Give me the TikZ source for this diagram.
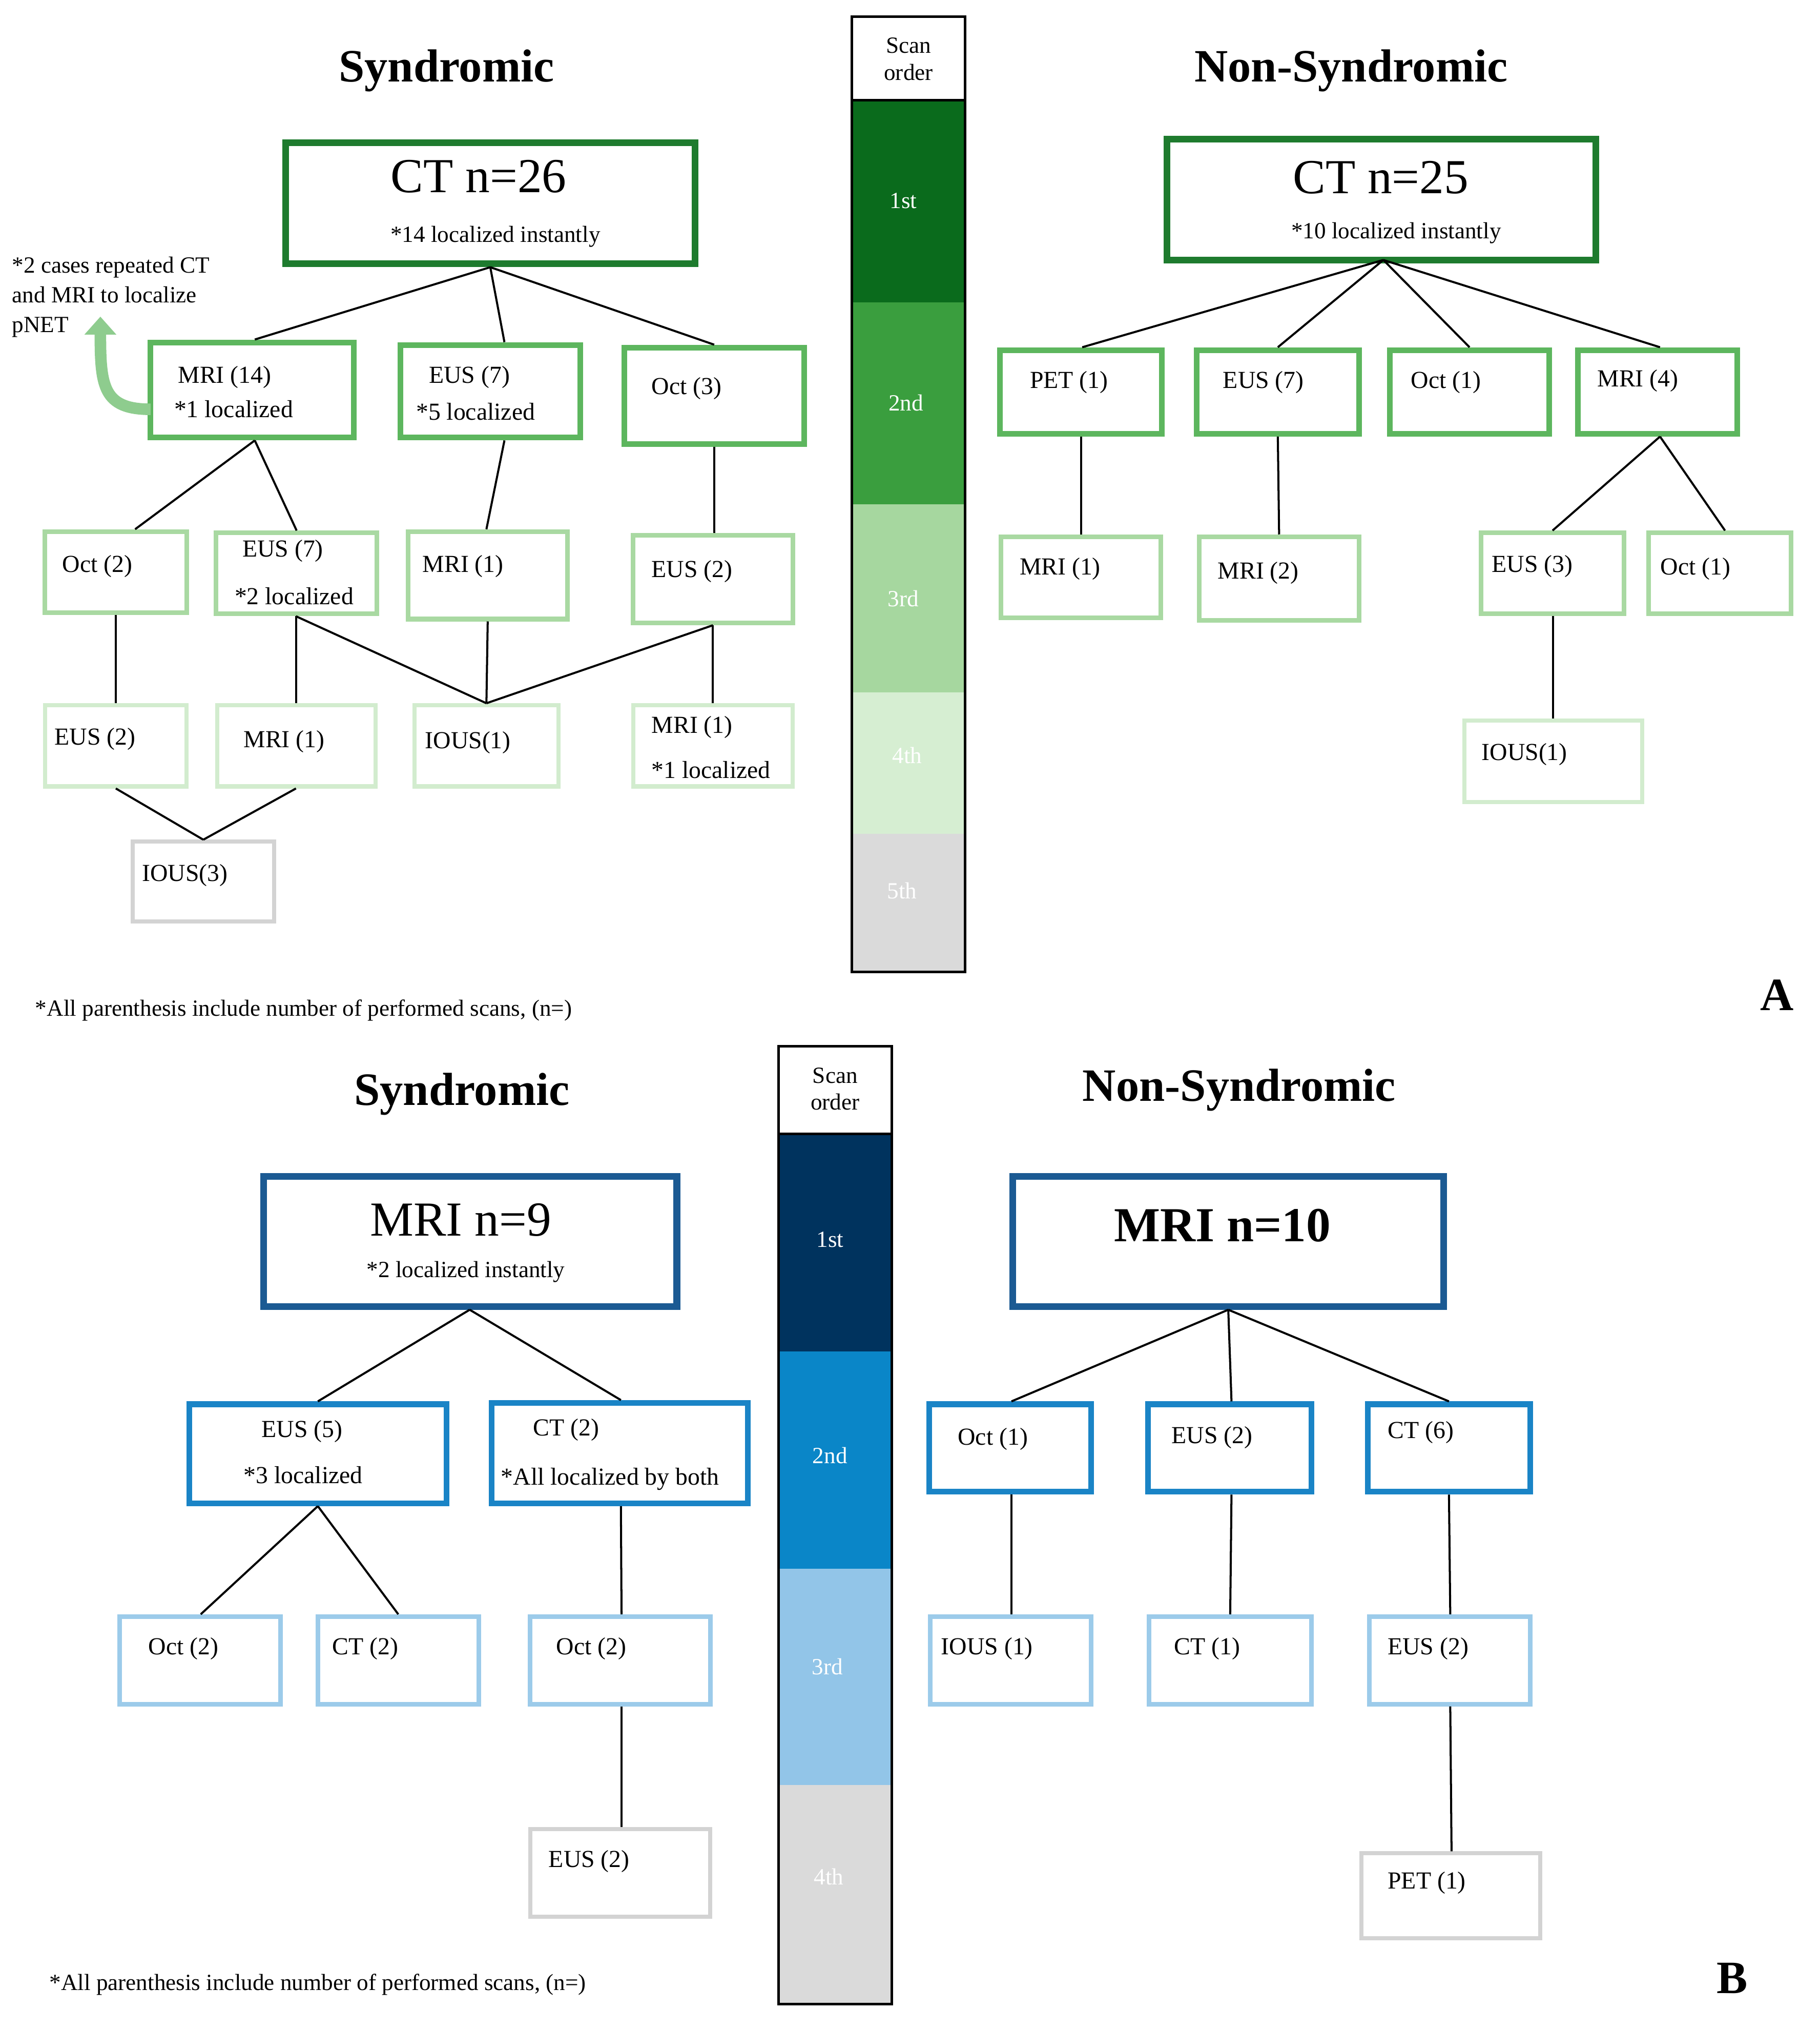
\documentclass[tikz,border=0pt]{standalone}
\usepackage{fontspec}
\setmainfont{Liberation Serif}
\usetikzlibrary{arrows.meta}
\definecolor{gA}{HTML}{1E7B2E}\definecolor{gB}{HTML}{5DB65E}\definecolor{gC}{HTML}{A9D9A2}\definecolor{gD}{HTML}{D2ECCE}
\definecolor{gr}{HTML}{D3D3D3}
\definecolor{bA}{HTML}{1B5A93}\definecolor{bB}{HTML}{1A84C6}\definecolor{bC}{HTML}{9CCBEA}
\definecolor{sA1}{HTML}{0A6B1C}\definecolor{sA2}{HTML}{3A9E3E}\definecolor{sA3}{HTML}{A6D79F}\definecolor{sA4}{HTML}{D6EED2}
\definecolor{sB1}{HTML}{00335E}\definecolor{sB2}{HTML}{0A86C8}\definecolor{sB3}{HTML}{92C5E8}
\newcommand\bx[6]{\node[draw,#6,inner sep=0pt,minimum width={(#4-#2)*0.5pt},minimum height={(#5-#3)*0.5pt}] (#1) at ({(#2+#4)/2},{(#3+#5)/2}) {};}
\newcommand\tx[4][]{\node[anchor=west,font=\fontsize{9.5}{11}\selectfont,inner sep=0pt,#1] (#2) at (#3) {#4};}
\newcommand\band[6]{\fill[#6] (#2,#3) rectangle (#4,#5); \node[white,font=\fontsize{9}{11}\selectfont] (#1) at ({(#2+#4)/2},{(#3+#5)/2}) {\strut};}
\tikzset{L1/.style={draw=#1,line width=2.6pt},L2/.style={draw=#1,line width=2.2pt},L3/.style={draw=#1,line width=1.8pt},L4/.style={draw=#1,line width=1.6pt},
con/.style={line width=0.8pt,black},ttl/.style={font=\fontsize{18}{20}\selectfont\bfseries},
big/.style={font=\fontsize{19}{21}\selectfont},sub/.style={font=\fontsize{9}{11}\selectfont}}
\begin{document}
\begin{tikzpicture}[x=0.5pt,y=-0.5pt]
\useasboundingbox (0,0) rectangle (1414,1578);
% ===== Panel A syndromic
\node[ttl] (tA1) at (347,55) {Syndromic};
\bx{ct26}{222}{111}{540}{205}{L1=gA}
\node[big] (ct26t) at (372,137) {CT n=26};
\node[sub] (ct26s) at (385,184) {*14 localized instantly};
\node[anchor=north west,align=left,inner sep=0pt,font=\fontsize{9}{11.6}\selectfont] (note) at (9,199) {*2 cases repeated CT\\and MRI to localize\\pNET};
\bx{mri14}{117}{266}{275}{340}{L2=gB}
\tx{a1}{138,293}{MRI (14)}\tx{a2}{135,318}{*1 localized}
\bx{eus7}{311}{268}{451}{340}{L2=gB}
\tx{a3}{333,293}{EUS (7)}\tx{a4}{323,320}{*5 localized}
\bx{oct3}{485}{270}{625}{345}{L2=gB}
\tx{a5}{506,302}{Oct (3)}
\coordinate (arS) at (117,318);\coordinate (arE) at (78,246);
\draw[line width=4.5pt,color=gB!70!white,-{Triangle[width=12pt,length=7pt]}] (arS) .. controls (80,318) and (78,300) .. (arE);
\draw[con] (ct26.south) -- ([xshift=2*0.5pt]mri14.north);
\draw[con] (ct26.south) -- ([xshift=11*0.5pt]eus7.north);
\draw[con] (ct26.south) -- (oct3.north);
\bx{oct2}{35}{413}{145}{476}{L3=gC}\tx{a6}{48,440}{Oct (2)}
\bx{eus7b}{168}{414}{293}{477}{L3=gC}\tx{a7}{188,428}{EUS (7)}\tx{a8}{182,463}{*2 localized}
\bx{mri1a}{317}{413}{441}{481}{L3=gC}\tx{a9}{328,440}{MRI (1)}
\bx{eus2a}{492}{416}{616}{484}{L3=gC}\tx{a10}{506,444}{EUS (2)}
\draw[con] ([xshift=2*0.5pt]mri14.south) -- ([xshift=15*0.5pt]oct2.north);
\draw[con] ([xshift=2*0.5pt]mri14.south) -- (eus7b.north);
\draw[con] ([xshift=11*0.5pt]eus7.south) -- ([xshift=-1*0.5pt]mri1a.north);
\draw[con] (oct3.south) -- ([xshift=1*0.5pt]eus2a.north);
\bx{eus2b}{35}{548}{145}{611}{L4=gD}\tx{a11}{42,574}{EUS (2)}
\bx{mri1b}{169}{548}{292}{611}{L4=gD}\tx{a12}{189,576}{MRI (1)}
\bx{ious1a}{322}{548}{434}{611}{L4=gD}\tx{a13}{330,577}{IOUS(1)}
\bx{mri1c}{492}{548}{616}{611}{L4=gD}\tx{a14}{506,565}{MRI (1)}\tx{a15}{506,598}{*1 localized}
\draw[con] (oct2.south) -- (eus2b.north);
\draw[con] ([xshift=-0.5*0.5pt]eus7b.south) -- ([xshift=-0.5*0.5pt]mri1b.north);
\draw[con] ([xshift=-0.5*0.5pt]eus7b.south) -- (ious1a.north);
\draw[con] (mri1a.south) -- (ious1a.north);
\draw[con] (eus2a.south) -- (ious1a.north);
\draw[con] (eus2a.south) -- (mri1c.north);
\bx{ious3}{103}{654}{213}{716}{L4=gr}\tx{a16}{110,680}{IOUS(3)}
\draw[con] (eus2b.south) -- (ious3.north);
\draw[con] ([xshift=-0.5*0.5pt]mri1b.south) -- (ious3.north);
\node[anchor=west,inner sep=0pt,sub] (fnA) at (27,785) {*All parenthesis include number of performed scans, (n=)};
\node[font=\fontsize{18}{20}\selectfont\bfseries] (lA) at (1381,773) {A};
% bar A
\node[font=\fontsize{9}{10.5}\selectfont,align=center] (soA) at (706,46) {Scan\\order};
\band{b1}{662}{78}{750}{235}{sA1}\node[white,font=\fontsize{9}{11}\selectfont] (b1t) at (702,156) {1st};
\band{b2}{662}{235}{750}{392}{sA2}\node[white,font=\fontsize{9}{11}\selectfont] (b2t) at (704,313) {2nd};
\band{b3}{662}{392}{750}{538}{sA3}\node[white,font=\fontsize{9}{11}\selectfont] (b3t) at (702,465) {3rd};
\band{b4}{662}{538}{750}{648}{sA4}\node[white,font=\fontsize{9}{11}\selectfont] (b4t) at (705,587) {4th};
\band{b5}{662}{648}{750}{755}{gr!85!white}\node[white,font=\fontsize{9}{11}\selectfont] (b5t) at (701,692) {5th};
\draw[line width=1pt] (662,13) rectangle (750,755); \draw[line width=1pt] (662,78) -- (750,78);
% Panel A non-syndromic
\node[ttl] (tA2) at (1050,55) {Non-Syndromic};
\bx{ct25}{907}{108}{1240}{202}{L1=gA}
\node[big] (ct25t) at (1073,138) {CT n=25};
\node[sub] (ct25s) at (1085,181) {*10 localized instantly};
\bx{pet1}{777}{272}{903}{337}{L2=gB}\tx{c1}{800,297}{PET (1)}
\bx{eus7c}{930}{272}{1056}{337}{L2=gB}\tx{c2}{950,297}{EUS (7)}
\bx{oct1a}{1080}{272}{1204}{337}{L2=gB}\tx{c3}{1096,297}{Oct (1)}
\bx{mri4}{1226}{272}{1350}{337}{L2=gB}\tx{c4}{1241,296}{MRI (4)}
\coordinate (ctb) at (1075,202);
\draw[con] (ctb) -- ([xshift=1*0.5pt]pet1.north);
\draw[con] (ctb) -- (eus7c.north);
\draw[con] (ctb) -- (oct1a.north);
\draw[con] (ctb) -- ([xshift=2*0.5pt]mri4.north);
\bx{mri1d}{778}{417}{902}{480}{L3=gC}\tx{c5}{792,442}{MRI (1)}
\bx{mri2}{932}{417}{1056}{482}{L3=gC}\tx{c6}{946,445}{MRI (2)}
\bx{eus3}{1151}{414}{1262}{477}{L3=gC}\tx{c7}{1159,440}{EUS (3)}
\bx{oct1b}{1281}{414}{1392}{477}{L3=gC}\tx{c8}{1290,442}{Oct (1)}
\draw[con] (pet1.south) -- (mri1d.north);
\draw[con] (eus7c.south) -- (mri2.north);
\draw[con] ([xshift=2*0.5pt]mri4.south) -- (eus3.north);
\draw[con] ([xshift=2*0.5pt]mri4.south) -- ([xshift=4*0.5pt]oct1b.north);
\bx{ious1b}{1138}{560}{1276}{623}{L4=gD}\tx{c9}{1151,586}{IOUS(1)}
\draw[con] ([xshift=0.5*0.5pt]eus3.south) -- (ious1b.north);
% ===== Panel B syndromic
\node[ttl] (tB1) at (359,850) {Syndromic};
\bx{mri9}{205}{914}{526}{1015}{L1=bA}
\node[big] (mri9t) at (358,948) {MRI n=9};
\node[sub] (mri9s) at (362,988) {*2 localized instantly};
\bx{eus5}{147}{1091}{347}{1168}{L2=bB}\tx{d1}{203,1112}{EUS (5)}\tx{d2}{189,1146}{*3 localized}
\bx{ct2}{382}{1090}{581}{1168}{L2=bB}\tx{d3}{414,1111}{CT (2)}\tx{d4}{389,1149}{*All localized by both}
\draw[con] ([xshift=-0.5*0.5pt]mri9.south) -- (eus5.north);
\draw[con] ([xshift=-0.5*0.5pt]mri9.south) -- ([xshift=1*0.5pt]ct2.north);
\bx{oct2b}{93}{1256}{218}{1324}{L3=bC}\tx{d5}{115,1281}{Oct (2)}
\bx{ct2b}{247}{1256}{372}{1324}{L3=bC}\tx{d6}{258,1281}{CT (2)}
\bx{oct2c}{412}{1256}{552}{1324}{L3=bC}\tx{d7}{432,1281}{Oct (2)}
\draw[con] (eus5.south) -- ([xshift=0.5*0.5pt]oct2b.north);
\draw[con] (eus5.south) -- (ct2b.north);
\draw[con] ([xshift=1*0.5pt]ct2.south) -- ([xshift=1*0.5pt]oct2c.north);
\bx{eus2c}{412}{1421}{552}{1489}{L4=gr}\tx{d8}{426,1446}{EUS (2)}
\draw[con] ([xshift=1*0.5pt]oct2c.south) -- ([xshift=1*0.5pt]eus2c.north);
\node[anchor=west,inner sep=0pt,sub] (fnB) at (38,1542) {*All parenthesis include number of performed scans, (n=)};
\node[font=\fontsize{18}{20}\selectfont\bfseries] (lB) at (1346,1537) {B};
% bar B
\node[font=\fontsize{9}{10.5}\selectfont,align=center] (soB) at (649,846) {Scan\\order};
\band{e1}{605}{881}{693}{1050}{sB1}\node[white,font=\fontsize{9}{11}\selectfont] (e1t) at (645,963) {1st};
\band{e2}{605}{1050}{693}{1219}{sB2}\node[white,font=\fontsize{9}{11}\selectfont] (e2t) at (645,1131) {2nd};
\band{e3}{605}{1219}{693}{1387}{sB3}\node[white,font=\fontsize{9}{11}\selectfont] (e3t) at (643,1295) {3rd};
\band{e4}{605}{1387}{693}{1557}{gr!85!white}\node[white,font=\fontsize{9}{11}\selectfont] (e4t) at (644,1458) {4th};
\draw[line width=1pt] (605,813) rectangle (693,1557); \draw[line width=1pt] (605,881) -- (693,881);
% Panel B non-syndromic
\node[ttl] (tB2) at (963,847) {Non-Syndromic};
\bx{mri10}{787}{914}{1122}{1015}{L1=bA}
\node[big,font=\fontsize{19}{21}\selectfont\bfseries] (mri10t) at (950,952) {MRI n=10};
\bx{oct1c}{722}{1091}{848}{1159}{L2=bB}\tx{f1}{744,1118}{Oct (1)}
\bx{eus2d}{892}{1091}{1019}{1159}{L2=bB}\tx{f2}{910,1117}{EUS (2)}
\bx{ct6}{1063}{1091}{1189}{1159}{L2=bB}\tx{f3}{1078,1113}{CT (6)}
\draw[con] (mri10.south) -- ([xshift=1*0.5pt]oct1c.north);
\draw[con] (mri10.south) -- ([xshift=1.5*0.5pt]eus2d.north);
\draw[con] (mri10.south) -- (ct6.north);
\bx{ious1c}{723}{1256}{848}{1324}{L3=bC}\tx{f4}{731,1281}{IOUS (1)}
\bx{ct1}{893}{1256}{1019}{1324}{L3=bC}\tx{f5}{912,1281}{CT (1)}
\bx{eus2e}{1064}{1256}{1189}{1324}{L3=bC}\tx{f6}{1078,1281}{EUS (2)}
\draw[con] ([xshift=1*0.5pt]oct1c.south) -- ([xshift=0.5*0.5pt]ious1c.north);
\draw[con] ([xshift=1.5*0.5pt]eus2d.south) -- (ct1.north);
\draw[con] (ct6.south) -- ([xshift=0.5*0.5pt]eus2e.north);
\bx{pet1b}{1058}{1440}{1197}{1506}{L4=gr}\tx{f7}{1078,1463}{PET (1)}
\draw[con] ([xshift=0.5*0.5pt]eus2e.south) -- ([xshift=0.5*0.5pt]pet1b.north);
\end{tikzpicture}
\end{document}
